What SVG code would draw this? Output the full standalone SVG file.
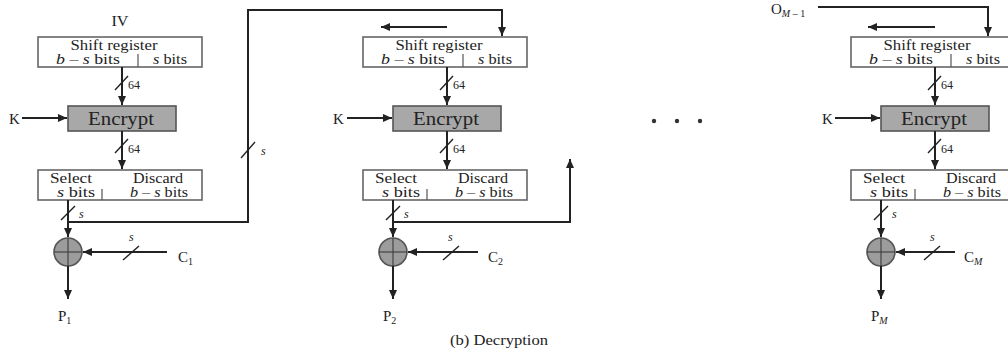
<svg xmlns="http://www.w3.org/2000/svg" width="1008" height="356" viewBox="0 0 1008 356">
<style>
text{font-family:"Liberation Serif","Times New Roman",serif;fill:#222;}
.t13{font-size:14px;}
.t12{font-size:12px;}
.lab{font-size:15px;}
.box{fill:#fff;stroke:#666;stroke-width:1.6;}
.enc{fill:#a8a8a8;stroke:#555;stroke-width:1.6;}
.div{stroke:#555;stroke-width:1.2;}
.ln{fill:none;stroke:#222;stroke-width:2;}
.sl{stroke:#222;stroke-width:1.4;}
.xc{fill:#9c9c9c;stroke:#555;stroke-width:1.6;}
.xl{stroke:#444;stroke-width:1.2;}
.mid{text-anchor:middle;}
</style>
<defs>
<marker id="ah" markerUnits="userSpaceOnUse" markerWidth="10" markerHeight="8" refX="9" refY="4" orient="auto">
<path d="M0,0 L9,4 L0,8 Z" fill="#222"/>
</marker>
</defs>

<g id="iv-label"><text class="lab mid" x="120" y="26" textLength="17" lengthAdjust="spacingAndGlyphs">IV</text></g>
<g id="o-label"><text class="lab" x="771" y="14">O<tspan font-size="10" dy="3"><tspan font-style="italic">M</tspan> – 1</tspan></text></g>

<!-- Stage 1 nodes -->
<g id="reg1">
<rect class="box" x="38" y="37" width="164" height="30"/>
<line class="div" x1="138" y1="54" x2="138" y2="67"/>
<text class="t13 mid" x="114" y="50" textLength="87" lengthAdjust="spacingAndGlyphs">Shift register</text>
<text class="t13 mid" x="88" y="64" textLength="64" lengthAdjust="spacingAndGlyphs"><tspan font-style="italic">b</tspan> – <tspan font-style="italic">s</tspan> bits</text>
<text class="t13 mid" x="170" y="64" textLength="34" lengthAdjust="spacingAndGlyphs"><tspan font-style="italic">s</tspan> bits</text>
</g>
<g id="enc1">
<rect class="enc" x="68" y="106" width="108" height="25"/>
<text class="mid" font-size="19" x="121" y="125" textLength="66" lengthAdjust="spacingAndGlyphs">Encrypt</text>
</g>
<g id="sel1">
<rect class="box" x="38" y="170" width="164" height="30"/>
<line class="div" x1="102" y1="189" x2="102" y2="200"/>
<text class="t13 mid" x="71" y="183" textLength="42" lengthAdjust="spacingAndGlyphs">Select</text>
<text class="t13 mid" x="158" y="183" textLength="50" lengthAdjust="spacingAndGlyphs">Discard</text>
<text class="t13 mid" x="76" y="197" textLength="38" lengthAdjust="spacingAndGlyphs"><tspan font-style="italic">s</tspan> bits</text>
<text class="t13 mid" x="159" y="197" textLength="58" lengthAdjust="spacingAndGlyphs"><tspan font-style="italic">b</tspan> – <tspan font-style="italic">s</tspan> bits</text>
</g>
<g id="xor1">
<circle class="xc" cx="68" cy="252" r="14"/>
<line class="xl" x1="54" y1="252" x2="82" y2="252"/>
<line class="xl" x1="68" y1="238" x2="68" y2="266"/>
</g>
<g id="k1"><text class="lab" x="9" y="124">K</text></g>
<g id="c1"><text class="lab" x="178" y="262">C<tspan font-size="10" dy="3">1</tspan></text></g>
<g id="p1"><text class="lab" x="58" y="321">P<tspan font-size="10" dy="3">1</tspan></text></g>

<!-- Stage 2 nodes -->
<g id="reg2" transform="translate(325,0)">
<rect class="box" x="38" y="37" width="164" height="30"/>
<line class="div" x1="138" y1="54" x2="138" y2="67"/>
<text class="t13 mid" x="114" y="50" textLength="87" lengthAdjust="spacingAndGlyphs">Shift register</text>
<text class="t13 mid" x="88" y="64" textLength="64" lengthAdjust="spacingAndGlyphs"><tspan font-style="italic">b</tspan> – <tspan font-style="italic">s</tspan> bits</text>
<text class="t13 mid" x="170" y="64" textLength="34" lengthAdjust="spacingAndGlyphs"><tspan font-style="italic">s</tspan> bits</text>
</g>
<g id="enc2" transform="translate(325,0)">
<rect class="enc" x="68" y="106" width="108" height="25"/>
<text class="mid" font-size="19" x="121" y="125" textLength="66" lengthAdjust="spacingAndGlyphs">Encrypt</text>
</g>
<g id="sel2" transform="translate(325,0)">
<rect class="box" x="38" y="170" width="164" height="30"/>
<line class="div" x1="102" y1="189" x2="102" y2="200"/>
<text class="t13 mid" x="71" y="183" textLength="42" lengthAdjust="spacingAndGlyphs">Select</text>
<text class="t13 mid" x="158" y="183" textLength="50" lengthAdjust="spacingAndGlyphs">Discard</text>
<text class="t13 mid" x="76" y="197" textLength="38" lengthAdjust="spacingAndGlyphs"><tspan font-style="italic">s</tspan> bits</text>
<text class="t13 mid" x="159" y="197" textLength="58" lengthAdjust="spacingAndGlyphs"><tspan font-style="italic">b</tspan> – <tspan font-style="italic">s</tspan> bits</text>
</g>
<g id="xor2" transform="translate(325,0)">
<circle class="xc" cx="68" cy="252" r="14"/>
<line class="xl" x1="54" y1="252" x2="82" y2="252"/>
<line class="xl" x1="68" y1="238" x2="68" y2="266"/>
</g>
<g id="k2"><text class="lab" x="333" y="124">K</text></g>
<g id="c2"><text class="lab" x="488" y="262">C<tspan font-size="10" dy="3">2</tspan></text></g>
<g id="p2"><text class="lab" x="383" y="321">P<tspan font-size="10" dy="3">2</tspan></text></g>

<!-- Stage 3 nodes -->
<g id="reg3" transform="translate(813,0)">
<rect class="box" x="38" y="37" width="164" height="30"/>
<line class="div" x1="138" y1="54" x2="138" y2="67"/>
<text class="t13 mid" x="114" y="50" textLength="87" lengthAdjust="spacingAndGlyphs">Shift register</text>
<text class="t13 mid" x="88" y="64" textLength="64" lengthAdjust="spacingAndGlyphs"><tspan font-style="italic">b</tspan> – <tspan font-style="italic">s</tspan> bits</text>
<text class="t13 mid" x="170" y="64" textLength="34" lengthAdjust="spacingAndGlyphs"><tspan font-style="italic">s</tspan> bits</text>
</g>
<g id="enc3" transform="translate(813,0)">
<rect class="enc" x="68" y="106" width="108" height="25"/>
<text class="mid" font-size="19" x="121" y="125" textLength="66" lengthAdjust="spacingAndGlyphs">Encrypt</text>
</g>
<g id="sel3" transform="translate(813,0)">
<rect class="box" x="38" y="170" width="164" height="30"/>
<line class="div" x1="102" y1="189" x2="102" y2="200"/>
<text class="t13 mid" x="71" y="183" textLength="42" lengthAdjust="spacingAndGlyphs">Select</text>
<text class="t13 mid" x="158" y="183" textLength="50" lengthAdjust="spacingAndGlyphs">Discard</text>
<text class="t13 mid" x="76" y="197" textLength="38" lengthAdjust="spacingAndGlyphs"><tspan font-style="italic">s</tspan> bits</text>
<text class="t13 mid" x="159" y="197" textLength="58" lengthAdjust="spacingAndGlyphs"><tspan font-style="italic">b</tspan> – <tspan font-style="italic">s</tspan> bits</text>
</g>
<g id="xor3" transform="translate(813,0)">
<circle class="xc" cx="68" cy="252" r="14"/>
<line class="xl" x1="54" y1="252" x2="82" y2="252"/>
<line class="xl" x1="68" y1="238" x2="68" y2="266"/>
</g>
<g id="k3"><text class="lab" x="822" y="124">K</text></g>
<g id="c3"><text class="lab" x="964" y="262">C<tspan font-size="10" dy="3" font-style="italic">M</tspan></text></g>
<g id="p3"><text class="lab" x="871" y="321">P<tspan font-size="10" dy="3" font-style="italic">M</tspan></text></g>

<g id="ellipsis" fill="#333">
<circle cx="654" cy="121" r="2.2"/><circle cx="677" cy="121" r="2.2"/><circle cx="700" cy="121" r="2.2"/>
</g>

<g id="caption"><text class="t13 mid" x="499" y="345" textLength="98" lengthAdjust="spacingAndGlyphs">(b) Decryption</text></g>

<g id="connectors">
<!-- stage 1 -->
<line class="ln" x1="122" y1="67" x2="122" y2="105" marker-end="url(#ah)"/>
<line class="sl" x1="115" y1="90" x2="128" y2="76"/>
<text class="t12" x="128" y="89">64</text>
<line class="ln" x1="122" y1="131" x2="122" y2="169" marker-end="url(#ah)"/>
<line class="sl" x1="115" y1="153" x2="128" y2="139"/>
<text class="t12" x="128" y="153">64</text>
<line class="ln" x1="22" y1="118" x2="67" y2="118" marker-end="url(#ah)"/>
<line class="ln" x1="68" y1="200" x2="68" y2="237" marker-end="url(#ah)"/>
<line class="sl" x1="61" y1="220" x2="75" y2="206"/>
<text class="t12" font-style="italic" x="79" y="218">s</text>
<polyline class="ln" points="68,222 248,222 248,10 502,10 502,36" marker-end="url(#ah)"/>
<line class="sl" x1="241" y1="158" x2="255" y2="142"/>
<text class="t12" font-style="italic" x="261" y="155">s</text>
<line class="ln" x1="167" y1="252" x2="83" y2="252" marker-end="url(#ah)"/>
<line class="sl" x1="123" y1="260" x2="139" y2="246"/>
<text class="t12" font-style="italic" x="129" y="241">s</text>
<line class="ln" x1="68" y1="266" x2="68" y2="299" marker-end="url(#ah)"/>

<!-- stage 2 -->
<line class="ln" x1="447" y1="27" x2="381" y2="27" marker-end="url(#ah)"/>
<line class="ln" x1="447" y1="67" x2="447" y2="105" marker-end="url(#ah)"/>
<line class="sl" x1="440" y1="90" x2="453" y2="76"/>
<text class="t12" x="453" y="89">64</text>
<line class="ln" x1="447" y1="131" x2="447" y2="169" marker-end="url(#ah)"/>
<line class="sl" x1="440" y1="153" x2="453" y2="139"/>
<text class="t12" x="453" y="153">64</text>
<line class="ln" x1="347" y1="118" x2="392" y2="118" marker-end="url(#ah)"/>
<line class="ln" x1="393" y1="200" x2="393" y2="237" marker-end="url(#ah)"/>
<line class="sl" x1="386" y1="220" x2="400" y2="206"/>
<text class="t12" font-style="italic" x="404" y="218">s</text>
<polyline class="ln" points="393,222 570,222 570,159" marker-end="url(#ah)"/>
<line class="ln" x1="478" y1="252" x2="408" y2="252" marker-end="url(#ah)"/>
<line class="sl" x1="443" y1="260" x2="459" y2="246"/>
<text class="t12" font-style="italic" x="448" y="241">s</text>
<line class="ln" x1="393" y1="266" x2="393" y2="299" marker-end="url(#ah)"/>

<!-- stage 3 -->
<polyline class="ln" points="818,7 988,7 988,36" marker-end="url(#ah)"/>
<line class="ln" x1="935" y1="27" x2="868" y2="27" marker-end="url(#ah)"/>
<line class="ln" x1="935" y1="67" x2="935" y2="105" marker-end="url(#ah)"/>
<line class="sl" x1="928" y1="90" x2="941" y2="76"/>
<text class="t12" x="941" y="89">64</text>
<line class="ln" x1="935" y1="131" x2="935" y2="169" marker-end="url(#ah)"/>
<line class="sl" x1="928" y1="153" x2="941" y2="139"/>
<text class="t12" x="941" y="153">64</text>
<line class="ln" x1="835" y1="118" x2="880" y2="118" marker-end="url(#ah)"/>
<line class="ln" x1="881" y1="200" x2="881" y2="237" marker-end="url(#ah)"/>
<line class="sl" x1="874" y1="220" x2="888" y2="206"/>
<text class="t12" font-style="italic" x="892" y="218">s</text>
<line class="ln" x1="955" y1="252" x2="896" y2="252" marker-end="url(#ah)"/>
<line class="sl" x1="924" y1="260" x2="940" y2="246"/>
<text class="t12" font-style="italic" x="930" y="241">s</text>
<line class="ln" x1="881" y1="266" x2="881" y2="299" marker-end="url(#ah)"/>
</g>
</svg>
